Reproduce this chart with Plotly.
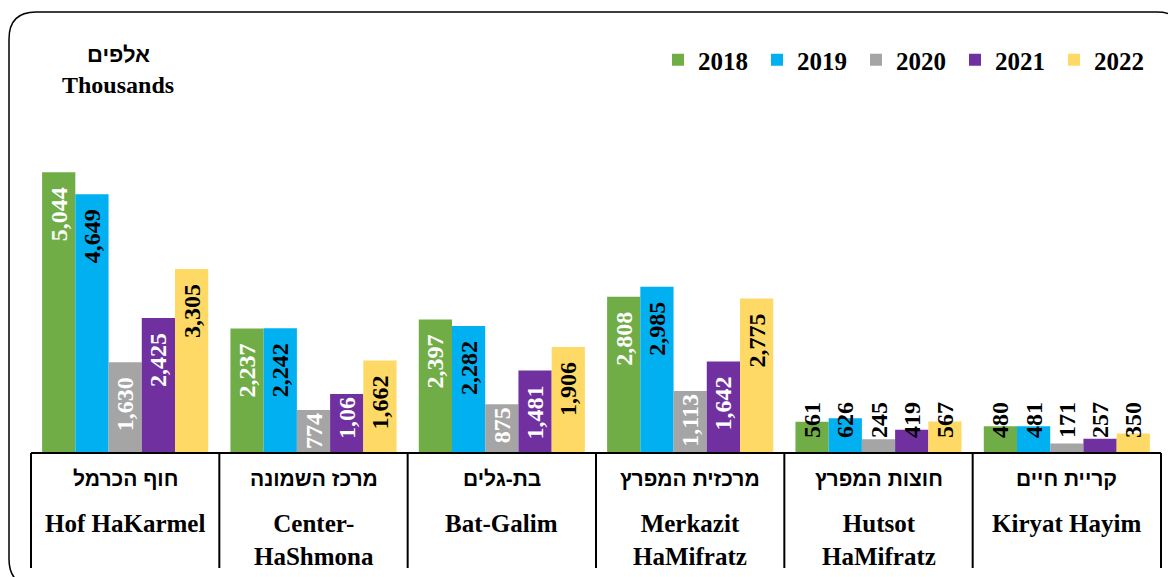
import plotly.graph_objects as go

# ---------------- data ----------------
years = ["2018", "2019", "2020", "2021", "2022"]
cat_he = ["חוף הכרמל", "מרכז השמונה", "בת-גלים", "מרכזית המפרץ", "חוצות המפרץ", "קריית חיים"]
cat_en = ["Hof HaKarmel", "Center-<br>HaShmona", "Bat-Galim", "Merkazit<br>HaMifratz", "Hutsot<br>HaMifratz", "Kiryat Hayim"]
v2018 = [5044, 2237, 2397, 2808, 561, 480]
v2019 = [4649, 2242, 2282, 2985, 626, 481]
v2020 = [1630, 774, 875, 1113, 245, 171]
v2021 = [2425, 1060, 1481, 1642, 419, 257]
v2022 = [3305, 1662, 1906, 2775, 567, 350]
# label text as printed on the chart (one label is truncated in the original)
label_override = {("2021", 1): "1,06"}

series = {"2018": v2018, "2019": v2019, "2020": v2020, "2021": v2021, "2022": v2022}
colors = {"2018": "#70AD47", "2019": "#00B0F0", "2020": "#A5A5A5", "2021": "#7030A0", "2022": "#FFD966"}
inside_text_color = {"2018": "white", "2019": "black", "2020": "white", "2021": "white", "2022": "black"}

# ---------------- layout geometry (screen pixels) ----------------
OFF = 8                      # default page margin of the html body
W_PX, H_PX = 1176 - OFF, 577 - OFF
L, R_EDGE = 31, 1161         # plot area left / right (screen px)
T, B = 119, 453              # plot area top / bottom (screen px)
SMALL = 700                  # bars below this carry their label across the bar top
NB = "\u00a0"


def px(x):
    return (x - OFF) / W_PX


def py(y):
    return 1 - (y - OFF) / H_PX


SERIF = "Liberation Serif"
HEB = "Liberation Sans"

fig = go.Figure()
xs = list(range(len(cat_en)))
for yr in years:
    vals = series[yr]
    labels = [label_override.get((yr, i), f"{v:,}") for i, v in enumerate(vals)]
    big_y = [v if v >= SMALL else None for v in vals]
    big_t = [(lab + NB * 2 if v >= 1400 else lab) if v >= SMALL else "" for v, lab in zip(vals, labels)]
    small_y = [v if v < SMALL else None for v in vals]
    small_t = [NB * 2 + lab if v < SMALL else "" for v, lab in zip(vals, labels)]
    fig.add_trace(go.Bar(
        x=xs, y=big_y, name=yr, offsetgroup=yr, legendgroup=yr,
        marker=dict(color=colors[yr], line=dict(width=0)),
        text=big_t, textposition="inside", textangle=-90,
        insidetextanchor="end",
        insidetextfont=dict(family=SERIF, size=24, color=inside_text_color[yr], weight="bold"),
        constraintext="none", cliponaxis=False,
    ))
    fig.add_trace(go.Bar(
        x=xs, y=small_y, name=yr, offsetgroup=yr, legendgroup=yr, showlegend=False,
        marker=dict(color=colors[yr], line=dict(width=0)),
        text=small_t, textposition="inside", textangle=-90,
        insidetextanchor="start",
        insidetextfont=dict(family=SERIF, size=24, color="black", weight="bold"),
        constraintext="none", cliponaxis=False,
    ))

shapes = []
# category separator lines below the axis
for i in range(len(cat_en) + 1):
    xp = px(L) + (px(R_EDGE) - px(L)) * i / len(cat_en)
    shapes.append(dict(type="line", xref="paper", yref="paper",
                       x0=xp, x1=xp, y0=py(B), y1=py(568),
                       line=dict(color="black", width=2)))
# axis line
shapes.append(dict(type="line", xref="paper", yref="paper",
                   x0=px(L), x1=px(R_EDGE), y0=py(B), y1=py(B), line=dict(color="black", width=2)))
# rounded chart border
x0b, y0b, x1b, y1b, r = 9, 12, 1184, 586, 27
path = (f"M {px(x0b)},{py(y0b + r)} Q {px(x0b)},{py(y0b)} {px(x0b + r)},{py(y0b)} "
        f"L {px(x1b - r)},{py(y0b)} Q {px(x1b)},{py(y0b)} {px(x1b)},{py(y0b + r)} "
        f"L {px(x1b)},{py(y1b - r)} Q {px(x1b)},{py(y1b)} {px(x1b - r)},{py(y1b)} "
        f"L {px(x0b + r)},{py(y1b)} Q {px(x0b)},{py(y1b)} {px(x0b)},{py(y1b - r)} Z")
shapes.append(dict(type="path", xref="paper", yref="paper", path=path,
                   line=dict(color="black", width=1.5)))

annotations = []
for i in xs:
    annotations.append(dict(x=i, xref="x", y=py(478), yref="paper", text=cat_he[i],
                            showarrow=False, xanchor="center", yanchor="middle",
                            font=dict(family=HEB, size=21, color="black", weight="bold")))
    annotations.append(dict(x=i, xref="x", y=py(508), yref="paper", text=cat_en[i],
                            showarrow=False, xanchor="center", yanchor="top",
                            font=dict(family=SERIF, size=25, color="black", weight="bold")))
annotations.append(dict(x=px(118), xref="paper", y=py(55), yref="paper", text="אלפים",
                        showarrow=False, xanchor="center", yanchor="middle",
                        font=dict(family=HEB, size=22, color="black", weight="bold")))
annotations.append(dict(x=px(118), xref="paper", y=py(85), yref="paper", text="Thousands",
                        showarrow=False, xanchor="center", yanchor="middle",
                        font=dict(family=SERIF, size=24, color="black", weight="bold")))

fig.update_layout(
    width=W_PX, height=H_PX,
    margin=dict(l=0, r=0, t=0, b=0),
    paper_bgcolor="white", plot_bgcolor="white",
    barmode="group", bargap=0.118, bargroupgap=0,
    xaxis=dict(domain=[px(L), px(R_EDGE)], range=[-0.5, len(cat_en) - 0.5],
               showticklabels=False, showgrid=False, zeroline=False, showline=False, fixedrange=True),
    yaxis=dict(domain=[py(B), py(T)], range=[0, 6000], visible=False, showgrid=False, zeroline=False),
    showlegend=True,
    legend=dict(orientation="h", x=px(658), xanchor="left", y=py(37), yanchor="top",
                font=dict(family=SERIF, size=25, color="black", weight="bold"),
                entrywidth=54, entrywidthmode="pixels", itemwidth=30,
                bgcolor="rgba(0,0,0,0)", tracegroupgap=0),
    shapes=shapes, annotations=annotations,
)

fig.write_html("out.html")
